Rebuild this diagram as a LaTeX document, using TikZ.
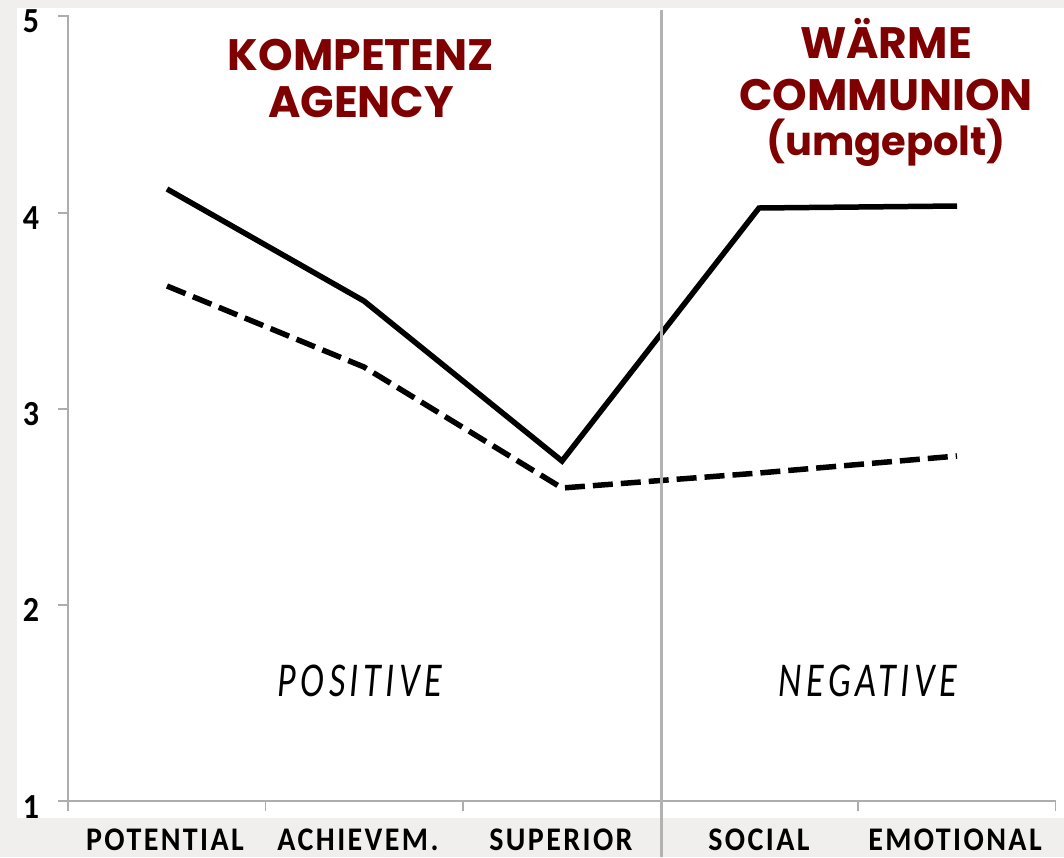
\documentclass[tikz,border=0pt]{standalone}
\usepackage{fontspec}
\setmainfont{Carlito}
\newfontfamily\titlefont{Poppins}
\newfontfamily\catfont{Carlito}[LetterSpace=8]
\newfontfamily\sidefont{Carlito}[LetterSpace=13]
\definecolor{bggray}{HTML}{F0EFED}
\definecolor{axisgray}{HTML}{ADADAD}
\definecolor{divgray}{HTML}{B2B2B2}
\definecolor{titlered}{HTML}{7F0000}
\tikzset{
  axisline/.style={draw=axisgray, line width=1.6pt},
  divider/.style={draw=divgray, line width=3pt},
  solidline/.style={draw=black, line width=5.5pt, line join=miter},
  dashline/.style={draw=black, line width=5.5pt, dash pattern=on 20pt off 8pt},
  ytick/.style={font=\fontsize{32}{34}\selectfont\bfseries, anchor=center},
  catlab/.style={font=\fontsize{30}{32}\catfont\bfseries, anchor=base, inner sep=0pt},
  sidelab/.style={font=\fontsize{36}{40}\sidefont\itshape, anchor=center},
  titleline/.style={font=\fontsize{44}{48}\titlefont\bfseries, text=titlered, anchor=base},
}
\begin{document}
\begin{tikzpicture}[x=1pt,y=-1pt]
\useasboundingbox (0,0) rectangle (1064,857);
\fill[bggray] (0,0) rectangle (1064,857);
\fill[white] (17,8) rectangle (1064,818);
% axes
\draw[axisline] (58,16) -- (68,16) -- (68,811);
\draw[axisline] (58,801) -- (1055.5,801) -- (1055.5,811);
\foreach \yy in {213,409,605} {\draw[axisline] (58,\yy) -- (68,\yy);}
\foreach \xx in {265.5,463,858} {\draw[axisline] (\xx,801) -- (\xx,811);}
% y tick labels
\node[ytick] (y5) at (31,21) {\scalebox{1}[1.1]{5}};
\node[ytick] (y4) at (31,218) {\scalebox{1}[1.1]{4}};
\node[ytick] (y3) at (31,414) {\scalebox{1}[1.1]{3}};
\node[ytick] (y2) at (31,610) {\scalebox{1}[1.1]{2}};
\node[ytick] (y1) at (31,807) {\scalebox{1}[1.1]{1}};
% data
\coordinate (s1) at (167,189);
\coordinate (s2) at (364,301);
\coordinate (s3) at (562,461);
\coordinate (s4) at (759,208);
\coordinate (s5) at (957,206);
\coordinate (d1) at (167,286);
\coordinate (d2) at (364,367);
\coordinate (d3) at (562,488);
\coordinate (d4) at (759,473);
\coordinate (d5) at (957,456);
\draw[dashline] (d1) -- (d2) -- (d3) -- (d4) -- (d5);
\draw[solidline] (s1) -- (s2) -- (s3) -- (s4) -- (s5);
% divider
\coordinate (divtop) at (661,10);
\coordinate (divbot) at (661,857);
\draw[divider] (divtop) -- (divbot);
% category labels
\node[catlab] (c1) at (165,850) {\scalebox{1}[1.1]{POTENTIAL}};
\node[catlab] (c2) at (358,850) {\scalebox{1}[1.1]{ACHIEVEM.}};
\node[catlab] (c3) at (561,850) {\scalebox{1}[1.1]{SUPERIOR}};
\node[catlab] (c4) at (759,850) {\scalebox{1}[1.1]{SOCIAL}};
\node[catlab] (c5) at (955,850) {\scalebox{1}[1.1]{EMOTIONAL}};
% side labels
\node[sidelab] (pos) at (360,681) {\scalebox{1}[1.35]{POSITIVE}};
\node[sidelab] (neg) at (868,681) {\scalebox{1}[1.35]{NEGATIVE}};
% titles
\node[titleline] (t1) at (361,70) {KOMPETENZ};
\node[titleline] (t2) at (361,117) {AGENCY};
\node[titleline] (t3) at (886,58) {WÄRME};
\node[titleline] (t4) at (886,110) {COMMUNION};
\node[titleline, font=\fontsize{40}{44}\titlefont\bfseries] (t5) at (886,155) {(umgepolt)};
\end{tikzpicture}
\end{document}
